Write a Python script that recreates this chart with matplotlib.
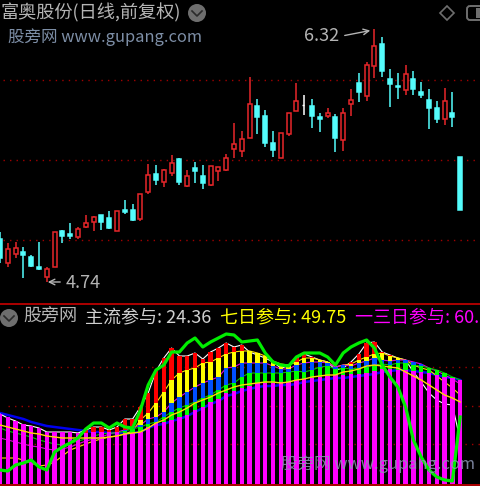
import numpy as np
import matplotlib
matplotlib.use('Agg')
import matplotlib.pyplot as plt
from matplotlib.patches import Circle, Polygon, FancyBboxPatch

plt.rcParams['font.family'] = ['Noto Sans CJK SC', 'DejaVu Sans']

# daily candles, i = 0..59
opens = [5.004,4.858,4.914,4.923,4.894,4.829,4.771,4.831,5.054,5.036,5.017,5.081,5.113,5.154,5.138,5.056,5.186,5.186,5.129,5.298,
	5.411,5.363,5.421,5.504,5.338,5.448,5.400,5.342,5.429,5.438,5.571,5.558,5.638,5.839,5.775,5.604,5.514,5.663,5.806,5.845,
	5.839,5.767,5.775,5.767,5.625,5.852,5.979,5.898,6.088,6.225,6.008,5.963,5.938,6.008,5.925,5.877,5.823,5.756,5.794,5.519]
closes = [4.886,4.942,4.948,4.904,4.838,4.819,4.817,5.050,5.025,5.025,5.071,5.108,5.144,5.111,5.073,5.183,5.175,5.127,5.286,5.408,
	5.373,5.438,5.483,5.361,5.400,5.429,5.354,5.464,5.454,5.511,5.598,5.631,5.848,5.767,5.608,5.561,5.671,5.792,5.867,5.845,
	5.777,5.758,5.792,5.636,5.792,5.877,5.925,6.092,6.213,6.058,5.973,5.954,6.036,5.946,5.906,5.823,5.756,5.867,5.767,5.188]
highs = [5.052,4.983,4.986,4.958,4.904,4.988,4.833,5.050,5.063,5.108,5.079,5.154,5.150,5.156,5.183,5.183,5.250,5.223,5.286,5.475,
	5.467,5.444,5.531,5.511,5.438,5.486,5.467,5.464,5.454,5.538,5.729,5.681,6.017,5.879,5.813,5.681,5.671,5.792,5.979,5.906,
	5.879,5.794,5.823,5.786,5.823,5.944,6.046,6.111,6.320,6.271,6.067,6.046,6.092,6.056,5.989,5.944,5.867,5.952,5.925,5.519]
lows = [4.854,4.829,4.886,4.764,4.829,4.813,4.740,4.831,4.979,5.004,5.008,5.075,5.056,5.063,5.071,5.056,5.163,5.121,5.121,5.289,
	5.344,5.333,5.400,5.344,5.333,5.354,5.317,5.336,5.371,5.429,5.514,5.521,5.636,5.663,5.579,5.521,5.514,5.652,5.806,5.783,
	5.700,5.673,5.763,5.550,5.558,5.775,5.861,5.871,6.011,6.019,5.833,5.879,5.906,5.906,5.888,5.692,5.729,5.719,5.708,5.188]

# indicator panel, tops of the stacked bands
magenta_top = [43.75,42.25,40.25,38.75,37.75,36.75,34.75,34.75,34.75,34.75,34.25,34.25,34.75,34.75,34.75,34.75,34.25,34.25,34.75,37.25,
	39.25,39.75,40.75,42.25,43.25,45.75,47.25,49.75,51.25,54.25,55.25,56.75,57.75,59.25,59.25,59.25,59.75,59.75,60.75,61.25,
	61.75,62.25,62.75,63.25,63.25,63.75,63.75,64.25,65.25,66.25,66.25,65.75,65.75,65.25,64.75,64.25,63.25,62.25,61.75,60.75]
green_top = [36.75,35.25,34.25,33.25,32.25,30.75,29.75,28.75,28.25,29.25,30.25,31.25,32.75,33.75,34.25,34.25,35.25,36.25,37.25,38.75,
	39.75,42.25,44.75,46.75,48.25,49.75,51.75,53.25,55.75,58.25,59.25,62.25,64.25,64.25,64.25,64.25,64.25,64.75,65.25,64.75,
	65.75,67.25,67.75,66.25,66.75,66.25,66.75,67.25,68.25,68.75,68.25,69.25,69.25,68.25,67.75,66.75,65.75,64.25,62.25,60.75]
blue_top = [31.75,30.75,29.75,28.75,27.75,27.25,26.25,25.75,26.25,27.25,28.75,30.25,31.25,32.25,33.75,34.75,35.75,36.75,38.25,41.25,
	42.25,44.75,49.25,52.25,54.75,57.25,59.25,60.75,62.25,66.75,67.25,69.25,69.25,69.25,69.25,67.75,66.25,66.25,68.25,69.25,
	69.75,69.75,69.25,67.25,68.25,67.75,69.25,70.25,71.75,70.75,70.25,70.75,70.75,69.75,68.75,66.75,65.25,63.25,61.25,58.75]
yellow_top = [21.75,21.75,21.75,20.75,19.25,17.75,18.25,19.75,22.75,25.75,27.25,28.75,30.25,31.25,32.25,32.75,33.75,35.25,40.75,44.25,
	49.25,54.75,60.75,64.25,65.75,66.75,69.25,69.75,71.75,73.75,74.75,75.25,75.25,74.25,72.75,70.25,68.75,68.25,69.75,71.75,
	71.75,70.75,69.75,67.25,68.25,68.75,70.75,72.25,73.75,74.25,72.75,71.75,70.75,68.25,66.75,65.75,62.75,59.75,56.75,53.25]
red_top = [43.75,41.75,40.25,38.25,37.75,36.75,34.75,34.75,34.75,34.75,34.25,35.75,37.25,37.25,35.75,37.25,41.25,41.25,47.25,54.25,
	65.25,71.75,76.75,72.75,72.75,74.25,71.25,74.75,76.75,79.25,77.25,78.25,74.75,73.25,71.75,69.75,66.75,67.75,71.75,73.75,
	72.25,70.75,69.75,65.75,66.75,69.75,73.75,79.25,79.75,74.75,73.25,71.75,70.75,64.75,59.75,54.25,50.75,48.75,48.25,30.75]

# indicator panel, lines
main_flow = [15.75,15.25,18.25,19.25,20.75,17.25,15.75,24.75,27.25,29.25,31.75,36.25,39.25,39.25,36.75,39.25,37.25,36.75,45.75,58.25,
	65.75,68.25,74.75,74.75,79.25,81.75,77.25,79.75,81.75,83.75,83.25,79.75,80.25,80.75,74.25,69.75,68.25,67.75,72.25,74.25,
	74.25,74.25,72.25,68.25,74.25,77.25,79.25,80.75,76.75,68.25,62.25,57.25,47.25,30.75,22.25,15.75,12.25,10.75,10.25,42.25]
long_line = [44.25,43.25,42.25,41.25,39.75,38.75,37.75,37.25,36.75,36.25,35.75,35.25,34.75,34.75,34.25,34.25,34.25,34.25,34.75,36.75,
	38.25,38.75,40.25,41.25,42.75,44.75,46.75,48.75,50.25,52.75,53.75,55.25,56.25,57.25,57.75,57.75,58.25,58.25,58.75,59.75,
	60.25,60.75,61.25,61.75,61.75,62.25,62.75,63.25,63.75,64.75,65.25,65.75,65.75,65.25,64.75,64.25,63.25,62.25,61.75,60.75]
seven_day = [38.25,37.25,36.25,35.25,34.25,33.75,32.75,32.25,31.75,31.75,31.75,31.75,31.75,31.75,32.25,32.75,33.75,34.25,34.75,36.75,
	39.25,40.75,43.25,44.75,46.75,49.25,50.75,52.25,54.25,55.75,57.25,58.25,58.75,59.25,59.75,59.75,59.25,59.75,60.75,61.25,
	62.25,62.75,63.25,63.25,64.75,65.25,66.25,67.75,68.25,67.75,67.25,66.75,64.75,62.75,60.75,58.25,55.75,53.25,51.75,49.75]

price_grid = [5.0, 5.5, 6.0]
flow_grid = [28.75, 47.75, 67.25]

W, H = 480, 486
RED = '#e8262a'
CYAN = '#54fcfc'
GRID = '#a00000'
BORDER = '#a80000'
GRAY = '#b4b4b4'
MARK = '#7d8ea6'

x = np.arange(60)
x_max = W / 7.8


def axes_px(top, bottom):
	return fig.add_axes([0, 1 - bottom / H, 1, (bottom - top) / H], facecolor='black')


fig = plt.figure(figsize=(W / 100, H / 100), dpi=100, facecolor='black')

# price panel
ax = axes_px(0, 303)
ax.set_xlim(0, x_max)
ax.set_ylim(6.5 - 303 / 160, 6.5)
ax.axis('off')
ax.hlines(price_grid, 0.4, x_max, color=GRID, lw=1, linestyles=(0, (1, 3.7)), zorder=1)

for i in x:
	if closes[i] > opens[i]:
		col, face = RED, 'black'
	elif closes[i] < opens[i]:
		col, face = CYAN, CYAN
	else:
		col, face = 'white', 'white'
	ax.vlines(i, lows[i], highs[i], color=col, lw=1.1, zorder=2)
	if closes[i] == opens[i]:
		ax.hlines(opens[i], i - 0.3, i, color=col, lw=1, zorder=3)
	else:
		ax.bar(i, abs(closes[i] - opens[i]), bottom=min(opens[i], closes[i]), width=0.52,
			facecolor=face, edgecolor=col, lw=1.1, zorder=3)

# indicator panel
ax2 = axes_px(305, 484)
ax2.set_xlim(0, x_max)
ax2.set_ylim(250.75 - 484 / 2, 250.75 - 305 / 2)
ax2.axis('off')
ax2.hlines(flow_grid, 1, x_max, color=GRID, lw=1, linestyles=(0, (1, 3.7)), zorder=1)

ax2.plot(x, long_line, color='#0000f0', lw=1.8, zorder=2)
ax2.plot(x, red_top, color='white', lw=0.8, zorder=2)
ax2.plot(x, yellow_top, color='#ffe000', lw=0.8, zorder=2)
ax2.plot(x, blue_top, color='#e000e0', lw=0.8, zorder=2)
ax2.plot(x, green_top, color='#00c000', lw=0.8, zorder=2)

base = np.array(magenta_top)
ax2.bar(x, base, width=0.55, color='#ff00ff', lw=0, zorder=3)
for top, col in [(green_top, '#00ff00'), (blue_top, '#0050ff'), (yellow_top, '#ffff00'), (red_top, '#ff0000')]:
	new = np.maximum(base, top)
	ax2.bar(x, new - base, bottom=base, width=0.55, color=col, lw=0, zorder=3)
	base = new

ax2.plot(x, seven_day, color='#ffd800', lw=1, zorder=4)
ax2.plot(x, main_flow, color='#00ee00', lw=2.3, zorder=5)

# text and buttons, in pixels
over = fig.add_axes([0, 0, 1, 1], facecolor='none')
over.set_xlim(0, W)
over.set_ylim(H, 0)
over.axis('off')

over.axhspan(303, 305, color=BORDER, lw=0)
over.axhspan(484, 486, color=BORDER, lw=0)

over.text(1, 13, '富奥股份(日线,前复权)', color=GRAY, fontsize=13.1, va='center')
over.add_patch(Circle((197, 13), 9, color='#6e6e6e', lw=0))
over.plot([192, 197, 202], [11, 16, 11], color='#2a2a2a', lw=1.2)
over.text(8, 37, '股旁网 www.gupang.com', color=MARK, fontsize=11.9, va='center')

over.add_patch(Polygon([(447, 6), (454, 13), (447, 20), (440, 13)], fill=False, edgecolor='#6e6e6e', lw=1.2))
over.add_patch(FancyBboxPatch((467, 6), 20, 14, boxstyle='round,pad=0,rounding_size=3', fill=False, edgecolor='#6e6e6e', lw=1.4))
over.axvspan(476, 480, ymin=1 - 18 / H, ymax=1 - 8 / H, color='#6e6e6e', lw=0)

over.text(304, 36, '6.32', color=GRAY, fontsize=13, va='center')
over.annotate('', xy=(373, 30), xytext=(342, 36), arrowprops=dict(arrowstyle='->', color=GRAY, lw=1))
over.text(66, 283, '4.74', color=GRAY, fontsize=13, va='center')
over.annotate('', xy=(45, 282), xytext=(63, 282), arrowprops=dict(arrowstyle='->', color=GRAY, lw=1))

over.add_patch(Circle((9, 318), 9, color='#6e6e6e', lw=0))
over.plot([4, 9, 14], [316, 321, 316], color='#2a2a2a', lw=1.2)
over.text(23, 317, '股旁网', color=GRAY, fontsize=13, va='center')
over.text(85, 317, '主流参与: 24.36', color='#d0d0d0', fontsize=13, va='center')
over.text(220, 317, '七日参与: 49.75', color='#ffff00', fontsize=13, va='center')
over.text(355, 317, '一三日参与: 60.', color='#ff00ff', fontsize=13, va='center')

over.text(281, 464, '股旁网 www.gupang.com', color='#8c96b4', alpha=0.85, fontsize=11.9, va='center', zorder=6)

fig.savefig('out.png', dpi=100, facecolor='black')
